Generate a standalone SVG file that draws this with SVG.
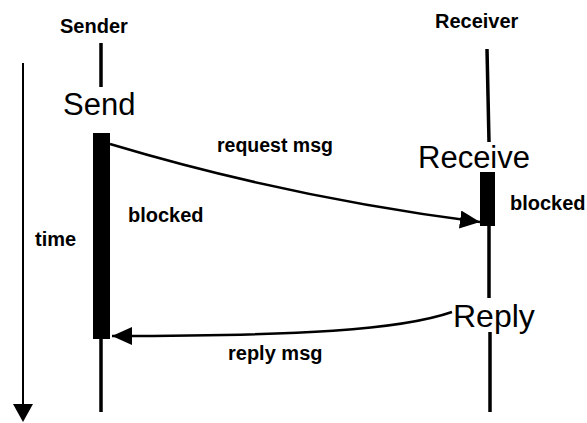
<svg xmlns="http://www.w3.org/2000/svg" width="587" height="423" viewBox="0 0 587 423">
  <style>
    .lbl { font-family: "Liberation Sans", Arial, Helvetica, sans-serif; font-weight: bold; font-size: 20px; fill: #000; }
    .evt { font-family: "Liberation Sans", Arial, Helvetica, sans-serif; font-size: 31px; fill: #000; }
    .life { stroke: #000; stroke-width: 3.5; fill: none; }
    .bar { fill: #000; }
    .msg { stroke: #000; stroke-width: 2.5; fill: none; }
  </style>
  <defs>
    <marker id="head" markerUnits="userSpaceOnUse" markerWidth="22" markerHeight="20" refX="20" refY="9" orient="auto">
      <path d="M0,0 L20,9 L0,18 Z" fill="#000"/>
    </marker>
  </defs>
  <rect width="587" height="423" fill="#fff"/>

  <!-- time axis -->
  <g id="time-axis">
    <line x1="23" y1="63" x2="23" y2="406" stroke="#000" stroke-width="2"/>
    <polygon points="13,404 33,404 23,422" fill="#000"/>
    <text class="lbl" x="35" y="246">time</text>
  </g>

  <!-- sender process -->
  <g id="sender">
    <text class="lbl" x="60" y="33">Sender</text>
    <line class="life" x1="101" y1="43" x2="101" y2="87"/>
    <text class="evt" x="63" y="115">Send</text>
    <rect class="bar" x="93" y="133" width="17" height="206"/>
    <line class="life" x1="101" y1="339" x2="101" y2="412"/>
    <text class="lbl" x="128" y="222">blocked</text>
  </g>

  <!-- receiver process -->
  <g id="receiver">
    <text class="lbl" x="435" y="28">Receiver</text>
    <line class="life" x1="487" y1="49" x2="489" y2="142"/>
    <text class="evt" x="418" y="168">Receive</text>
    <rect class="bar" x="480" y="172" width="15" height="54"/>
    <line class="life" x1="489" y1="226" x2="489" y2="298"/>
    <text class="lbl" x="510" y="210">blocked</text>
    <text class="evt" x="453" y="327" style="font-size:32px">Reply</text>
    <line class="life" x1="490" y1="332" x2="490" y2="412"/>
  </g>

  <!-- messages -->
  <g id="connectors">
    <path class="msg" d="M110,144 C210,174 340,204 480,222" marker-end="url(#head)"/>
    <text class="lbl" x="217" y="152" style="font-size:19.5px">request msg</text>
    <path class="msg" d="M452,312 C400,330 300,336 112,336" marker-end="url(#head)"/>
    <text class="lbl" x="228" y="360">reply msg</text>
  </g>
</svg>
